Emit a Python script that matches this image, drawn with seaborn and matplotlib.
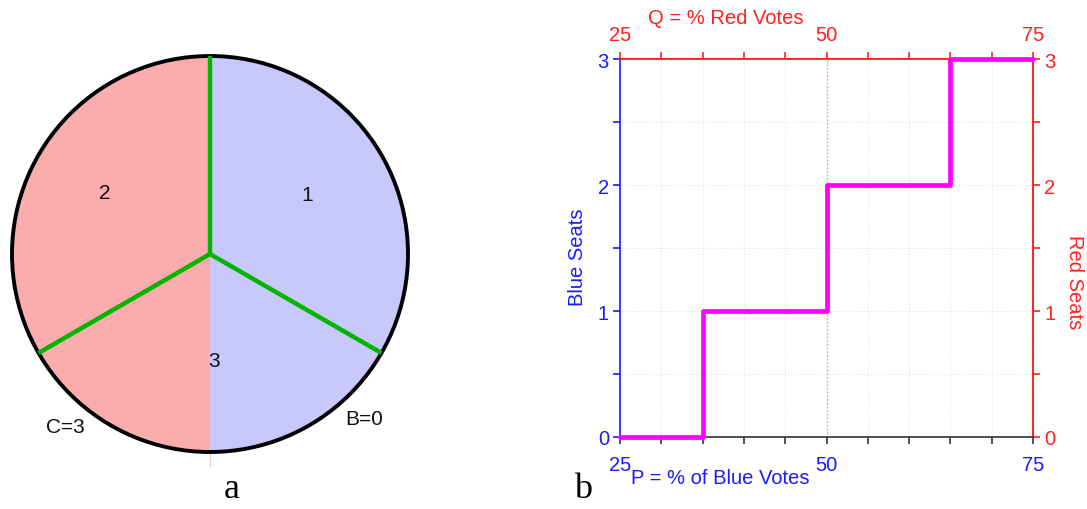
import numpy as np
import pandas as pd
import matplotlib
matplotlib.use("Agg")
import matplotlib.pyplot as plt
from matplotlib.patches import Circle
from matplotlib.ticker import MultipleLocator, FixedLocator
import seaborn as sns

sns.set_theme(style="white")
plt.rcParams['font.family'] = ['Liberation Sans', 'DejaVu Sans']

# ---- data ----
# panel a: circle split into red/blue halves, three districts
half_shares = [50, 50]                  # blue (right) / red (left)
half_colors = ["#C8C8FB", "#FBADAD"]
district_bounds_deg = [90, 210, 330]    # district boundary directions
district_labels = ["1", "2", "3"]
district_label_xy = [(0.49, 0.30), (-0.53, 0.31), (0.02, -0.54)]
corner_labels = ["C=3", "B=0"]
corner_label_xy = [(-0.73, -0.87), (0.78, -0.83)]

# panel b: seats-votes step curve
blue_vote_pct = [25, 35, 50, 65, 75]
blue_seats = [0, 1, 2, 3, 3]
vote_ticks = [25, 50, 75]
seat_ticks = [0, 1, 2, 3]

BLUE = "#1A1AFF"
RED = "#FF2020"
MAGENTA = "#FF00FF"
GREEN = "#00B400"
FS = 14.5

fig = plt.figure(figsize=(10.87, 5.10), dpi=100)

# ---------------- panel a ----------------
W, H = 1087, 510
axp = fig.add_axes([10 / W, (H - 255 - 200) / H, 400 / W, 400 / H])
axp.pie(half_shares, colors=half_colors, startangle=90, counterclock=False,
        radius=1.0, wedgeprops=dict(linewidth=0))
axp.set_xlim(-1.0101, 1.0101)
axp.set_ylim(-1.0101, 1.0101)
axp.set_aspect('equal')
axp.axis('off')
# faint seam continuing below the circle
axp.plot([0, 0], [-1.0, -1.07], color="#F8C8C8", lw=1, clip_on=False)
axp.add_patch(Circle((0, 0), 1.0, fill=False, edgecolor="black", lw=2.8, zorder=3))
for ang in district_bounds_deg:
    a = np.deg2rad(ang)
    axp.plot([0, np.cos(a)], [0, np.sin(a)], color=GREEN, lw=3.2,
             solid_capstyle='butt', zorder=4)
for lab, (x, y) in zip(district_labels, district_label_xy):
    axp.text(x, y, lab, ha='center', va='center', fontsize=15, color="#111111", zorder=5)
for lab, (x, y) in zip(corner_labels, corner_label_xy):
    axp.text(x, y, lab, ha='center', va='center', fontsize=15, color="#111111", zorder=5)

fig.text(232 / W, 1 - 490 / H, "a", fontsize=26, family='Liberation Serif',
         ha='center', va='center', color='black')
fig.text(583 / W, 1 - 490 / H, "b", fontsize=26, family='Liberation Serif',
         ha='center', va='center', color='black')

# ---------------- panel b ----------------
ax = fig.add_axes([620 / W, (H - 438) / H, 413 / W, 378 / H])
df = pd.DataFrame({"P": blue_vote_pct, "seats": blue_seats})
sns.lineplot(data=df, x="P", y="seats", ax=ax, drawstyle='steps-post',
             color=MAGENTA, lw=3.4, estimator=None, clip_on=False, zorder=5)
ax.set_xlim(25, 75)
ax.set_ylim(0, 3)
ax.set_xlabel("")
ax.set_ylabel("")

ax.xaxis.set_major_locator(FixedLocator(vote_ticks))
ax.xaxis.set_minor_locator(MultipleLocator(5))
ax.yaxis.set_major_locator(FixedLocator(seat_ticks))
ax.yaxis.set_minor_locator(MultipleLocator(0.5))

ax.grid(True, which='both', color="#E2E2E2", linestyle=':', lw=0.8)
ax.axvline(50, color="#AAAAAA", linestyle=':', lw=1.0, zorder=1)

for side, col in [("left", BLUE), ("top", RED), ("right", RED), ("bottom", "#333333")]:
    ax.spines[side].set_visible(True)
    ax.spines[side].set_color(col)
    ax.spines[side].set_linewidth(1.2)

ax.tick_params(axis='x', which='both', direction='out', length=5, width=1.2,
               color="#333333", labelcolor=BLUE, labelsize=FS, pad=8, bottom=True)
ax.tick_params(axis='y', which='both', direction='out', length=5, width=1.2,
               color=BLUE, labelcolor=BLUE, labelsize=FS, pad=3, left=True)

# top axis: red votes
axt = ax.secondary_xaxis('top')
axt.xaxis.set_major_locator(FixedLocator(vote_ticks))
axt.xaxis.set_minor_locator(MultipleLocator(5))
axt.tick_params(axis='x', which='both', direction='out', length=5, width=1.2,
                color=RED, labelcolor=RED, labelsize=FS, pad=6)
axt.spines['top'].set_color(RED)
axt.spines['top'].set_linewidth(1.2)

# right axis: red seats
axr = ax.secondary_yaxis('right')
axr.yaxis.set_major_locator(FixedLocator(seat_ticks))
axr.yaxis.set_minor_locator(MultipleLocator(0.5))
axr.tick_params(axis='y', which='both', direction='out', length=5, width=1.2,
                color=RED, labelcolor=RED, labelsize=FS, pad=3)
axr.spines['right'].set_color(RED)
axr.spines['right'].set_linewidth(1.2)

ax.text(0.242, -0.106, "P = % of Blue Votes", transform=ax.transAxes,
        ha='center', va='center', fontsize=FS, color=BLUE)
ax.text(0.257, 1.11, "Q = % Red Votes", transform=ax.transAxes,
        ha='center', va='center', fontsize=FS, color=RED)
ax.text(-0.104, 0.479, "Blue Seats", transform=ax.transAxes, rotation=90,
        ha='center', va='center', fontsize=FS, color=BLUE)
ax.text(1.1, 0.413, "Red Seats", transform=ax.transAxes, rotation=270,
        ha='center', va='center', fontsize=FS, color=RED)

fig.savefig("out.png", dpi=100)
